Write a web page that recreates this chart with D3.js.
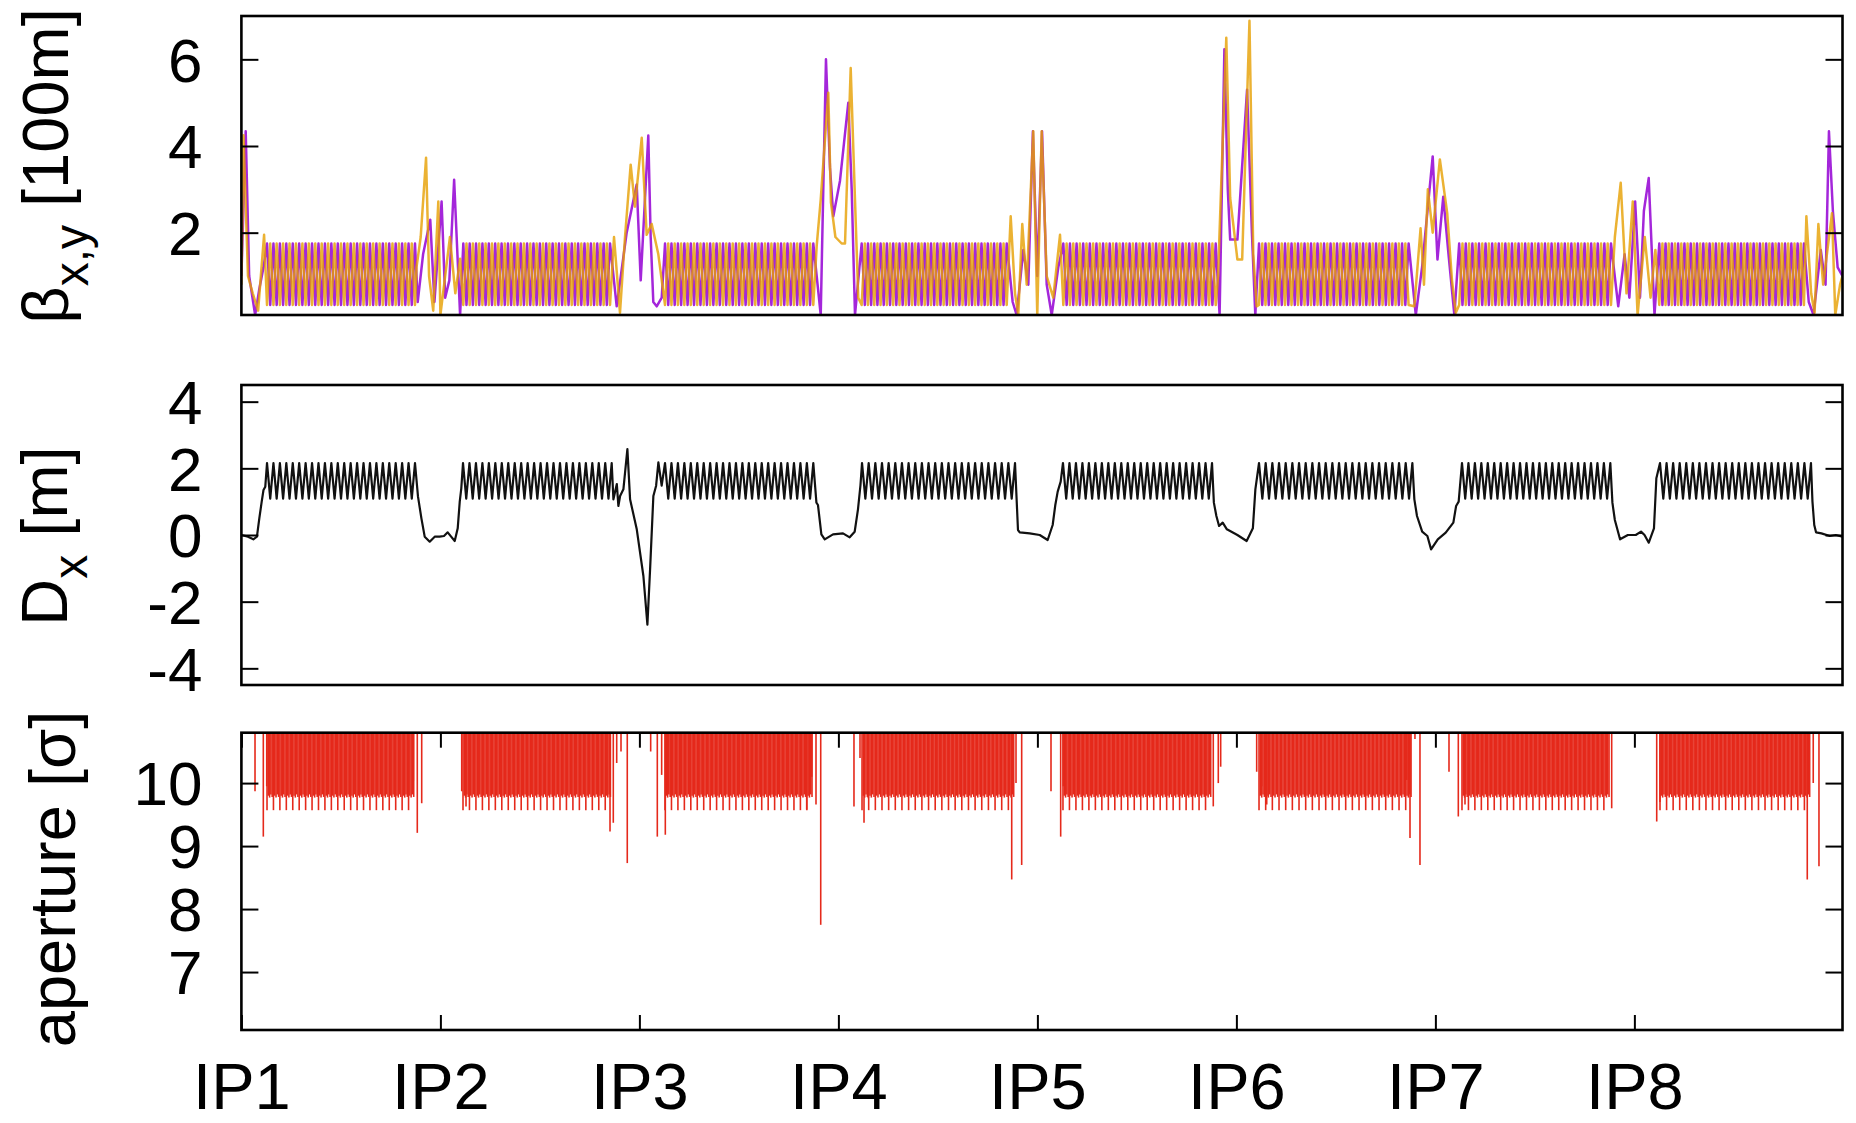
<!DOCTYPE html>
<html>
<head>
<meta charset="utf-8">
<title>Ring optics: beta functions, dispersion and aperture</title>
<script src="https://cdn.jsdelivr.net/npm/d3@7"></script>
<style>
  html, body { margin: 0; padding: 0; background: #ffffff; }
  svg { display: block; }
</style>
</head>
<body>
<svg id="chart" width="1856" height="1123"></svg>
<script>
// ---------------------------------------------------------------------------
// Data (longitudinal position s in metres)
// ---------------------------------------------------------------------------
const ipLabels = ["IP1", "IP2", "IP3", "IP4", "IP5", "IP6", "IP7", "IP8"];
const ipPos = [0, 3332.4, 6664.8, 9997.2, 13329.6, 16662.0, 19994.4, 23326.8];
const ringLength = 26659;
const sRange = [0, 26812];

const betaTicks = [2, 4, 6];
const dxTicks = [-4, -2, 0, 2, 4];
const apTicks = [7, 8, 9, 10];

const betaRange = [0.1, 7.0];
const dxRange = [-4.5, 4.5];
const apRange = [6.08, 10.8];

// Regular FODO arcs between the insertions
const cellsPerArc = 23;
const latticeArcStart = [429, 3711, 7094, 10393, 13758, 17041, 20440, 23756];
const latticeArcEnd = [2907, 6201, 9577, 12955, 16254, 19609, 22924, 26284];
const betaArcStart = [429, 3716, 7094, 10387, 13764, 17041, 20393, 23744];
const betaArcEnd = [2907, 6173, 9577, 12816, 16316, 19546, 22935, 26166];

// One arc cell: [phase within the cell, value]
const betaXCell = [[0, 1.75], [0.5, 0.33]];
const betaYCell = [[0, 0.33], [0.5, 1.75]];
const dxCell = [[0, 2.16], [0.5, 1.09]];
const apertureCell = [[0, 9.57], [0.2, 9.80], [0.4, 9.77], [0.6, 9.82], [0.8, 9.78]];

// Insertion regions: [offset from anchor, value].
// Anchors are IP1..IP8 followed by the end of the ring (IP1 again).
const insAnchor = ipPos.concat([ringLength]);

const betaXIns = [
  [[0, 1.0], [72, 4.34], [130, 1.0], [230, 0.1], [300, 0.7], [370, 1.2]],
  [[-380, 0.4], [-290, 1.5], [-170, 2.3], [-100, 0.4], [20, 2.72], [80, 0.5], [150, 0.9], [230, 3.22], [330, 0.1]],
  [[-380, 0.3], [-213, 2.0], [-45, 3.11], [22, 0.9], [149, 4.24], [189, 1.9], [233, 0.4], [290, 0.3], [374, 0.5]],
  [[-296, 0.1], [-253, 3.0], [-208, 6.0], [-141, 3.5], [-85, 2.38], [27, 3.2], [166, 5.0], [223, 3.0], [278, 0.1]],
  [[-414, 0.4], [-347, 0.1], [-236, 1.6], [-152, 0.8], [-75, 4.34], [-2, 1.0], [78, 4.34], [156, 0.8], [240, 0.1], [350, 1.2]],
  [[-281, 0.1], [-201, 6.23], [-144, 3.0], [-104, 1.84], [17, 1.84], [179, 5.3], [260, 2.0], [317, 0.1]],
  [[-328, 0.1], [-223, 1.2], [-45, 3.76], [35, 1.38], [132, 2.83], [213, 1.6], [318, 0.1]],
  [[-270, 0.3], [-164, 1.5], [-84, 0.5], [13, 2.72], [94, 0.5], [159, 2.5], [240, 3.26], [337, 0.1]],
  [[-412, 0.4], [-332, 0.1], [-211, 1.6], [-131, 0.8], [-74, 4.34], [-8, 2.5], [72, 1.2], [152, 1.0]]
];

const betaYIns = [
  [[0, 0.8], [35, 4.25], [110, 1.0], [190, 0.6], [280, 0.2], [380, 1.95]],
  [[-400, 1.2], [-330, 1.9], [-240, 3.73], [-190, 1.0], [-120, 0.2], [-35, 2.72], [0, 0.1], [160, 1.9], [250, 0.6], [330, 1.4]],
  [[-425, 1.9], [-325, 0.15], [-241, 1.9], [-146, 3.57], [-74, 2.6], [39, 4.19], [122, 1.95], [206, 2.2], [317, 1.5]],
  [[-363, 1.7], [-296, 2.76], [-169, 5.23], [-125, 2.7], [-50, 1.9], [55, 1.75], [111, 1.75], [206, 5.8], [278, 2.76], [333, 0.5]],
  [[-447, 2.38], [-375, 0.6], [-320, 0.1], [-253, 2.2], [-179, 0.8], [-69, 4.34], [-2, 0.1], [72, 4.34], [156, 1.0], [266, 0.5], [379, 1.95]],
  [[-307, 1.0], [-169, 6.5], [-104, 2.8], [17, 1.38], [97, 1.38], [219, 6.89], [283, 1.5], [340, 0.3]],
  [[-352, 0.3], [-248, 2.1], [-191, 0.8], [-126, 3.0], [-45, 2.0], [75, 3.69], [198, 2.45], [278, 0.9], [342, 0.15]],
  [[-327, 1.9], [-229, 3.15], [-132, 0.6], [-27, 2.72], [54, 0.1], [174, 1.9], [271, 0.5], [352, 1.6]],
  [[-452, 2.38], [-372, 0.6], [-315, 0.15], [-251, 2.2], [-171, 0.8], [-23, 2.45], [32, 0.1], [112, 0.8], [152, 1.0]]
];

const dxIns = [
  [[0, 0.0], [110, -0.05], [200, -0.13], [260, -0.05], [300, 0.5], [340, 1.0], [370, 1.35], [400, 1.45]],
  [[-375, 1.15], [-318, 0.5], [-263, -0.05], [-179, -0.2], [-95, -0.05], [-12, -0.05], [60, -0.03], [122, 0.08], [180, -0.05], [240, -0.18], [290, 0.2], [324, 1.0], [350, 1.4]],
  [[-435, 1.07], [-378, 1.53], [-352, 0.87], [-323, 1.17], [-268, 1.37], [-201, 2.58], [-156, 1.07], [-44, 0.17], [67, -1.23], [134, -2.69], [179, -1.03], [234, 1.17], [280, 1.48], [318, 2.18], [373, 1.48]],
  [[-368, 0.97], [-342, 0.9], [-285, 0.02], [-229, -0.13], [-90, 0.02], [77, 0.05], [189, -0.07], [273, 0.1], [328, 0.77], [370, 1.5]],
  [[-325, 0.15], [-296, 0.08], [-129, 0.05], [39, 0.0], [172, -0.15], [256, 0.3], [300, 0.9], [340, 1.3], [390, 1.6]],
  [[-377, 0.97], [-335, 0.57], [-290, 0.27], [-229, 0.37], [-159, 0.17], [17, 0.0], [172, -0.18], [276, 0.2], [318, 1.37]],
  [[-352, 1.07], [-308, 0.57], [-221, 0.1], [-134, -0.03], [-72, -0.43], [40, -0.13], [173, 0.07], [301, 0.37], [347, 0.87], [390, 1.0]],
  [[-368, 0.97], [-327, 0.45], [-240, -0.13], [-109, 0.0], [23, 0.0], [111, 0.1], [170, 0.0], [241, -0.23], [328, 0.2], [368, 1.7]],
  [[-350, 1.0], [-320, 0.3], [-290, 0.08], [-200, 0.05], [-60, -0.03], [40, 0.0], [152, -0.05]]
];

const apertureIns = [
  [[228, 9.87], [367, 9.15], [424, 9.95]],
  [[-454, 10.03], [-387, 9.21], [-313, 9.68], [357, 9.87], [429, 9.63]],
  [[-492, 9.23], [-437, 9.37], [-380, 10.32], [-308, 10.5], [-203, 8.73], [189, 10.5], [300, 9.15], [373, 10.13], [434, 9.18], [484, 9.83]],
  [[-531, 9.58], [-447, 10.1], [-375, 9.66], [-296, 7.75], [261, 9.63], [362, 10.4], [429, 9.37], [501, 9.76]],
  [[-430, 8.47], [-358, 10.0], [-263, 8.7], [228, 9.87], [390, 9.15], [434, 9.95]],
  [[-387, 9.63], [-303, 10.0], [-263, 10.26], [340, 10.18], [424, 9.95], [508, 9.66]],
  [[-481, 10.05], [-425, 9.13], [-342, 10.7], [-258, 8.7], [228, 10.18], [384, 9.47], [496, 9.66]],
  [[-380, 9.6], [374, 9.39], [429, 9.7]],
  [[-476, 10.32], [-437, 8.47], [-337, 10.0], [-241, 8.68]]
];

// ---------------------------------------------------------------------------
// Series assembly: arc cells laid along each arc plus the insertion points
// ---------------------------------------------------------------------------
function arcPoints(starts, ends, cell, closeArc) {
  const pts = [];
  starts.forEach((s0, k) => {
    const len = (ends[k] - s0) / cellsPerArc;
    for (let i = 0; i < cellsPerArc; i++) {
      cell.forEach(([ph, v]) => pts.push([s0 + (i + ph) * len, v]));
    }
    if (closeArc) pts.push([ends[k], cell[0][1]]);
  });
  return pts;
}

function insertionPoints(ins) {
  const pts = [];
  ins.forEach((list, j) => list.forEach(([off, v]) => pts.push([insAnchor[j] + off, v])));
  return pts;
}

function series(starts, ends, cell, ins) {
  return arcPoints(starts, ends, cell, true)
    .concat(insertionPoints(ins))
    .sort((a, b) => a[0] - b[0]);
}

const betaX = series(betaArcStart, betaArcEnd, betaXCell, betaXIns);
const betaY = series(betaArcStart, betaArcEnd, betaYCell, betaYIns);
const dispX = series(latticeArcStart, latticeArcEnd, dxCell, dxIns);
const aperture = arcPoints(latticeArcStart, latticeArcEnd, apertureCell, false)
  .concat(insertionPoints(apertureIns));

// ---------------------------------------------------------------------------
// Layout and drawing
// ---------------------------------------------------------------------------
const FONT = "'Liberation Sans', Arial, Helvetica, sans-serif";
const FS = 65;       // axis titles and IP labels
const TICK_FS = 62;  // numeric tick labels
const plotLeft = 241.4, plotRight = 1842.5;

const svg = d3.select("#chart");
svg.append("rect").attr("width", 1856).attr("height", 1123).attr("fill", "#ffffff");

const x = d3.scaleLinear().domain(sRange).range([plotLeft, plotRight]);

const fmt = d => (d < 0 ? "-" + Math.abs(d) : String(d));

function makePanel(id, top, bottom, domain, ticks) {
  const y = d3.scaleLinear().domain(domain).range([bottom, top]);
  const g = svg.append("g").attr("id", id);

  svg.append("clipPath").attr("id", id + "-clip")
    .append("rect")
    .attr("x", plotLeft).attr("y", top)
    .attr("width", plotRight - plotLeft).attr("height", bottom - top);

  const plot = g.append("g").attr("clip-path", `url(#${id}-clip)`);

  const left = g.append("g")
    .attr("transform", `translate(${plotLeft},0)`)
    .call(d3.axisLeft(y).tickValues(ticks).tickSize(-17).tickPadding(39).tickFormat(fmt));
  const right = g.append("g")
    .attr("transform", `translate(${plotRight},0)`)
    .call(d3.axisRight(y).tickValues(ticks).tickSize(-17).tickFormat(""));
  [left, right].forEach(a => {
    a.select(".domain").remove();
    a.selectAll(".tick line").attr("stroke", "#000").attr("stroke-width", 2);
    a.selectAll(".tick text")
      .attr("font-family", FONT).attr("font-size", TICK_FS).attr("fill", "#000")
      .attr("dy", "0.35em");
  });

  return { g, plot, y, top, bottom };
}

function frame(p) {
  p.g.append("rect")
    .attr("x", plotLeft).attr("y", p.top)
    .attr("width", plotRight - plotLeft).attr("height", p.bottom - p.top)
    .attr("fill", "none").attr("stroke", "#000").attr("stroke-width", 2.6);
}

// --- beta functions ---------------------------------------------------------
const pb = makePanel("beta", 16, 315, betaRange, betaTicks);
const lineB = d3.line().x(d => x(d[0])).y(d => pb.y(d[1]));
pb.plot.append("path").datum(betaX)
  .attr("d", lineB).attr("fill", "none")
  .attr("stroke", "#9400d3").attr("stroke-width", 2.5)
  .attr("stroke-linejoin", "round").attr("stroke-opacity", 0.85);
pb.plot.append("path").datum(betaY)
  .attr("d", lineB).attr("fill", "none")
  .attr("stroke", "#e69f00").attr("stroke-width", 2.5)
  .attr("stroke-linejoin", "round").attr("stroke-opacity", 0.8);
frame(pb);

// --- horizontal dispersion ----------------------------------------------------
const pd = makePanel("disp", 385, 685, dxRange, dxTicks);
const lineD = d3.line().x(d => x(d[0])).y(d => pd.y(d[1]));
pd.plot.append("path").datum(dispX)
  .attr("d", lineD).attr("fill", "none")
  .attr("stroke", "#111").attr("stroke-width", 2.2)
  .attr("stroke-linejoin", "round");
frame(pd);

// --- aperture -------------------------------------------------------------------
const pa = makePanel("aper", 732.7, 1030, apRange, apTicks);
pa.plot.selectAll("line.ap").data(aperture).join("line")
  .attr("class", "ap")
  .attr("x1", d => x(d[0])).attr("x2", d => x(d[0]))
  .attr("y1", pa.y(apRange[1])).attr("y2", d => pa.y(d[1]))
  .attr("stroke", "#e5291b").attr("stroke-width", 1.6);

const xb = pa.g.append("g")
  .attr("transform", `translate(0,${pa.bottom})`)
  .call(d3.axisBottom(x).tickValues(ipPos).tickSize(-15).tickPadding(33)
    .tickFormat((d, i) => ipLabels[i]));
const xt = pa.g.append("g")
  .attr("transform", `translate(0,${pa.top})`)
  .call(d3.axisTop(x).tickValues(ipPos).tickSize(-15).tickFormat(""));
[xb, xt].forEach(a => {
  a.select(".domain").remove();
  a.selectAll(".tick line").attr("stroke", "#000").attr("stroke-width", 2);
  a.selectAll(".tick text")
    .attr("font-family", FONT).attr("font-size", FS).attr("fill", "#000");
});
frame(pa);

// --- axis titles ------------------------------------------------------------------
function title(cx, cy) {
  return svg.append("text")
    .attr("transform", `translate(${cx},${cy}) rotate(-90)`)
    .attr("text-anchor", "middle")
    .attr("font-family", FONT).attr("font-size", FS).attr("fill", "#000");
}

const tb = title(68, 166);
tb.append("tspan").text("β");
tb.append("tspan").attr("font-size", 48).attr("dy", 20).text("x,y");
tb.append("tspan").attr("dy", -20).text(" [100m]");

const td = title(67, 536);
td.append("tspan").text("D");
td.append("tspan").attr("font-size", 48).attr("dy", 20).text("x");
td.append("tspan").attr("dy", -20).text(" [m]");

const ta = title(75, 879);
ta.append("tspan").text("aperture [σ]");
</script>
</body>
</html>
